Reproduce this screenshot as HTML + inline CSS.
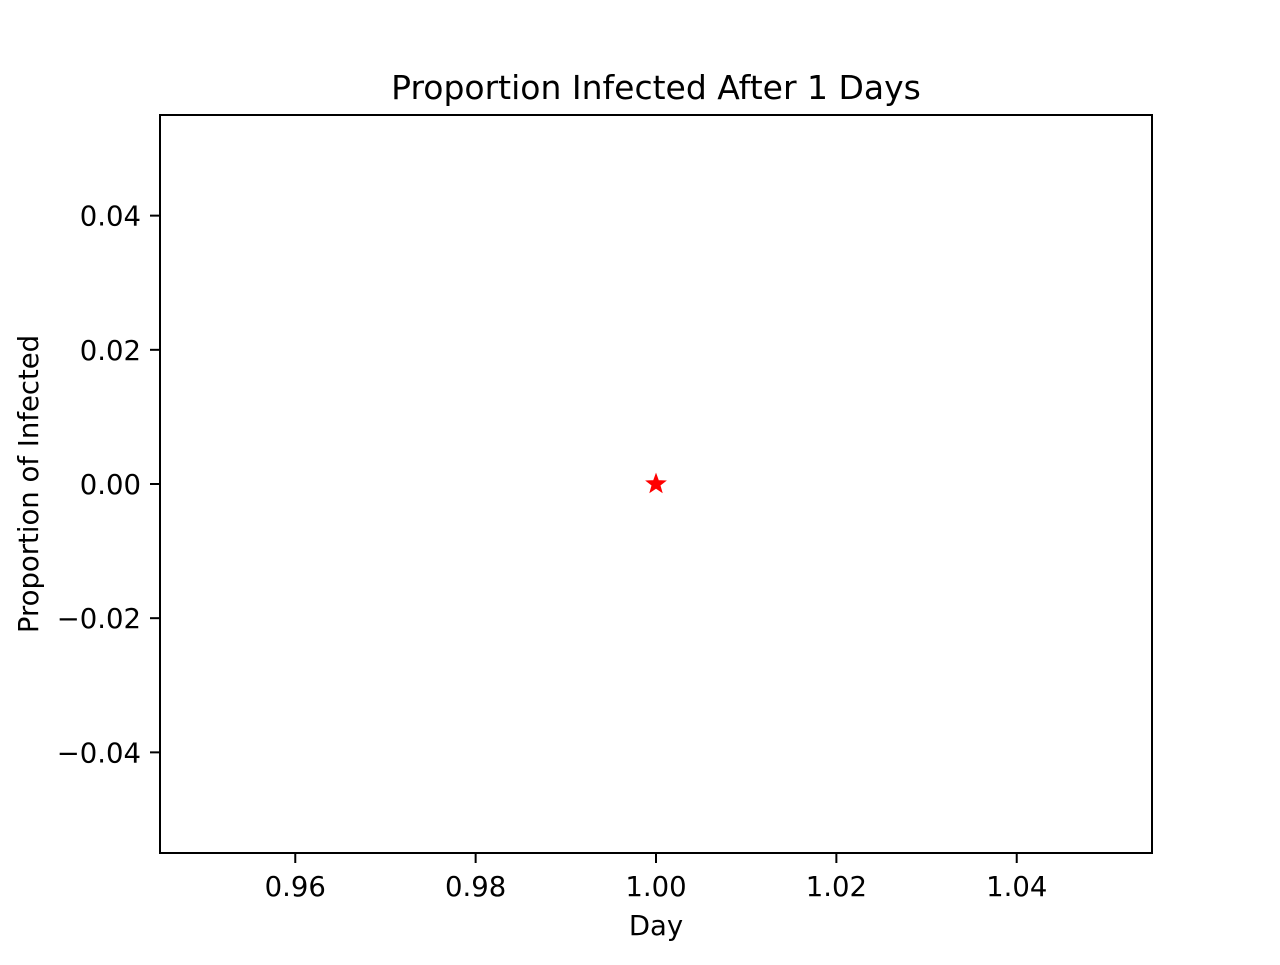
<!DOCTYPE html>
<html><head><meta charset="utf-8"><style>
body{margin:0;background:#fff;}
text{font-family:"DejaVu Sans","Liberation Sans",sans-serif;fill:#000;}
</style></head><body>
<svg id="chart" width="1280" height="960" xmlns="http://www.w3.org/2000/svg">
<rect width="1280" height="960" fill="#fff"/>
<text x="656" y="99" font-size="33" text-anchor="middle">Proportion Infected After 1 Days</text>
<g id="xt"></g><g id="yt"></g><g id="pts"></g>
<rect x="160" y="115" width="992" height="738" fill="none" stroke="#000" stroke-width="2"/>
<text x="656" y="935" font-size="27.5" text-anchor="middle">Day</text>
<text transform="translate(38,484) rotate(-90)" font-size="27.5" text-anchor="middle">Proportion of Infected</text>
</svg>
<script>
const days=[1];
const values=[0];
const xTicks=[0.96,0.98,1.00,1.02,1.04];
const xTickLabels=["0.96","0.98","1.00","1.02","1.04"];
const yTicks=[-0.04,-0.02,0,0.02,0.04];
const yTickLabels=["\u22120.04","\u22120.02","0.00","0.02","0.04"];
const NS="http://www.w3.org/2000/svg";
const X=v=>160+(v-0.945)/0.11*992;
const Y=v=>853-(v+0.055)/0.11*738;
function mk(t,a,p){const e=document.createElementNS(NS,t);for(const k in a)e.setAttribute(k,a[k]);p.appendChild(e);return e;}
const xt=document.getElementById('xt'),yt=document.getElementById('yt'),pts=document.getElementById('pts');
xTicks.forEach((v,i)=>{
 const l=mk('line',{x1:X(v),x2:X(v),y1:853,y2:863,stroke:'#000','stroke-width':2},xt);
 
 
 const t=mk('text',{x:X(v),y:896,'font-size':27.5,'text-anchor':'middle'},xt);t.textContent=xTickLabels[i];
 
 
});
yTicks.forEach((v,i)=>{
 const l=mk('line',{x1:150,x2:160,y1:Y(v),y2:Y(v),stroke:'#000','stroke-width':2},yt);
 
 
 const t=mk('text',{x:141,y:Y(v)+10,'font-size':27.5,'text-anchor':'end'},yt);t.textContent=yTickLabels[i];
 
 
});
days.forEach((d,i)=>{
 const cx=X(d),cy=Y(values[i]);let p='';
 for(let k=0;k<10;k++){const r=k%2?3.5:8.5,a=-Math.PI/2+k*Math.PI/5;p+=(k?'L':'M')+(cx+r*Math.cos(a)).toFixed(2)+','+(cy+r*Math.sin(a)).toFixed(2);}
 const s=mk('path',{d:p+'Z',fill:'#ff0000',stroke:'#ff0000','stroke-width':2},pts);
 
 
});
</script>
</body></html>
